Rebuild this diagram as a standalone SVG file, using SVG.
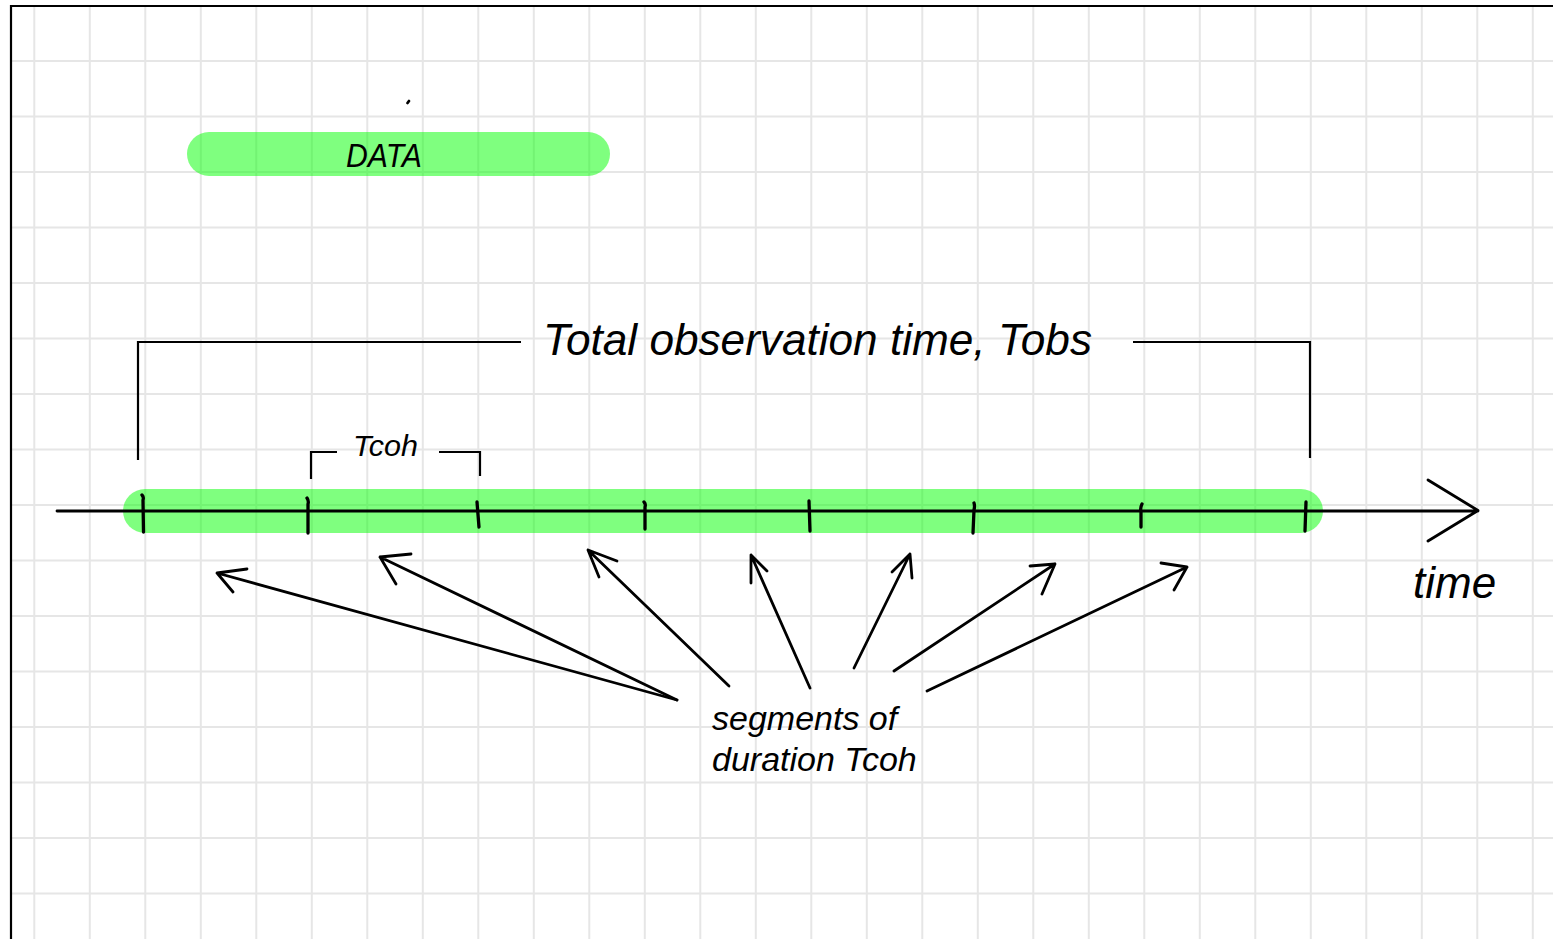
<svg xmlns="http://www.w3.org/2000/svg" width="1553" height="939" viewBox="0 0 1553 939">
<style>
.grid line{stroke:#e6e6e6;stroke-width:2}
.pill{fill:#00ff00;fill-opacity:0.5}
.ink{stroke:#000;stroke-width:2.8;fill:none;stroke-linecap:round;stroke-linejoin:round}
.tick{stroke:#000;stroke-width:3.3;fill:none;stroke-linecap:round;stroke-linejoin:round}
.br{stroke:#000;stroke-width:2.2;fill:none}
.t{font-family:"Liberation Sans",Arial,sans-serif;font-style:italic;fill:#000}
</style>
<rect width="1553" height="939" fill="#fff"/>
<g class="grid">
<line x1="34.3" y1="6" x2="34.3" y2="939"/><line x1="89.8" y1="6" x2="89.8" y2="939"/><line x1="145.3" y1="6" x2="145.3" y2="939"/><line x1="200.8" y1="6" x2="200.8" y2="939"/><line x1="256.3" y1="6" x2="256.3" y2="939"/><line x1="311.8" y1="6" x2="311.8" y2="939"/><line x1="367.3" y1="6" x2="367.3" y2="939"/><line x1="422.8" y1="6" x2="422.8" y2="939"/><line x1="478.3" y1="6" x2="478.3" y2="939"/><line x1="533.8" y1="6" x2="533.8" y2="939"/><line x1="589.3" y1="6" x2="589.3" y2="939"/><line x1="644.8" y1="6" x2="644.8" y2="939"/><line x1="700.3" y1="6" x2="700.3" y2="939"/><line x1="755.8" y1="6" x2="755.8" y2="939"/><line x1="811.3" y1="6" x2="811.3" y2="939"/><line x1="866.8" y1="6" x2="866.8" y2="939"/><line x1="922.3" y1="6" x2="922.3" y2="939"/><line x1="977.8" y1="6" x2="977.8" y2="939"/><line x1="1033.3" y1="6" x2="1033.3" y2="939"/><line x1="1088.8" y1="6" x2="1088.8" y2="939"/><line x1="1144.3" y1="6" x2="1144.3" y2="939"/><line x1="1199.8" y1="6" x2="1199.8" y2="939"/><line x1="1255.3" y1="6" x2="1255.3" y2="939"/><line x1="1310.8" y1="6" x2="1310.8" y2="939"/><line x1="1366.3" y1="6" x2="1366.3" y2="939"/><line x1="1421.8" y1="6" x2="1421.8" y2="939"/><line x1="1477.3" y1="6" x2="1477.3" y2="939"/><line x1="1532.8" y1="6" x2="1532.8" y2="939"/>
<line x1="11" y1="61" x2="1553" y2="61"/><line x1="11" y1="116.5" x2="1553" y2="116.5"/><line x1="11" y1="172" x2="1553" y2="172"/><line x1="11" y1="227.5" x2="1553" y2="227.5"/><line x1="11" y1="283" x2="1553" y2="283"/><line x1="11" y1="338.5" x2="1553" y2="338.5"/><line x1="11" y1="394" x2="1553" y2="394"/><line x1="11" y1="449.5" x2="1553" y2="449.5"/><line x1="11" y1="505" x2="1553" y2="505"/><line x1="11" y1="560.5" x2="1553" y2="560.5"/><line x1="11" y1="616" x2="1553" y2="616"/><line x1="11" y1="671.5" x2="1553" y2="671.5"/><line x1="11" y1="727" x2="1553" y2="727"/><line x1="11" y1="782.5" x2="1553" y2="782.5"/><line x1="11" y1="838" x2="1553" y2="838"/><line x1="11" y1="893.5" x2="1553" y2="893.5"/>
</g>
<g id="frame"><path d="M11 939 V6 H1553" stroke="#000" stroke-width="2.2" fill="none"/></g>
<g id="data">
<rect class="pill" x="187" y="132" width="423" height="44" rx="22"/>
<text class="t" x="346" y="167" font-size="33" textLength="76" lengthAdjust="spacingAndGlyphs">DATA</text>
<path class="ink" d="M407.5 103 L409 101" stroke-width="2.5"/>
</g>
<g id="timeline">
<rect class="pill" x="123" y="489" width="1200" height="44" rx="22"/>
<path class="ink" d="M57 511 H1478 M1428 480 L1478 510.5 L1428 541"/>
<path class="tick" d="M142 495 Q144 497 143 500 L143.5 532 M307 498 Q309 501 308 504 L308 533 M477 502 L479 527 M644 502 Q646 504 645 507 L645 529 M809 501 L810 531 M974 503 Q975 506 974 510 L973 533 M1142 504 Q1140 508 1141 512 L1141 527 M1306 502 L1305 531"/>
<text class="t" x="1413" y="598" font-size="44">time</text>
</g>
<g id="tobs">
<path class="br" d="M138 460 V342 H521 M1133 342 H1310 V458"/>
<text class="t" x="543" y="355" font-size="44" textLength="549" lengthAdjust="spacingAndGlyphs">Total observation time, Tobs</text>
</g>
<g id="tcoh">
<path class="br" d="M311 479 V452 H337 M439 452 H480 V476"/>
<text class="t" x="353" y="456" font-size="30" textLength="65" lengthAdjust="spacingAndGlyphs">Tcoh</text>
</g>
<g id="label">
<text class="t" x="712" y="730" font-size="34">segments of</text>
<text class="t" x="712" y="771" font-size="34">duration Tcoh</text>
</g>
<g id="connectors" class="ink">
<path d="M677 700 L217 573 M247 569 L217 573 L233 592"/>
<path d="M677 700 L380 557 M411 554 L380 557 L396 584"/>
<path d="M729 686 L588 550 M617 561 L588 550 L599 577"/>
<path d="M810 688 L751 555 M767 571 L751 555 L751 583"/>
<path d="M854 668 L910 554 M892 572 L910 554 L912 578"/>
<path d="M894 671 L1055 564 M1030 566 L1055 564 L1042 594"/>
<path d="M927 691 L1187 567 M1161 563 L1187 567 L1174 590"/>
</g>
</svg>
